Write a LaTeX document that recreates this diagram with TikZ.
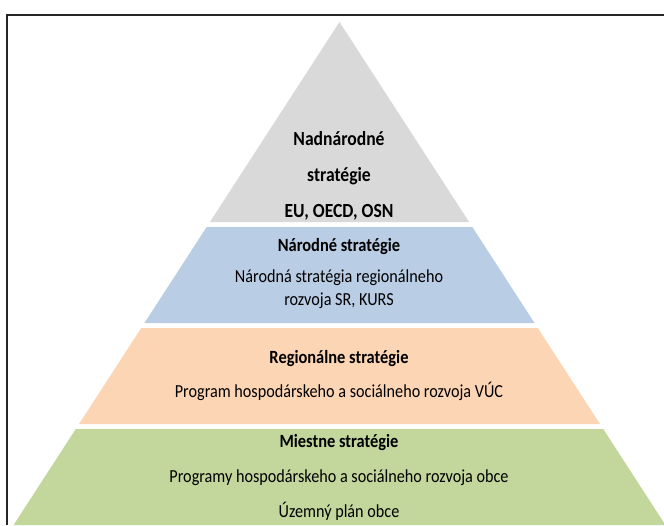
\documentclass[tikz,border=0pt]{standalone}
\usepackage{fontspec}
\setmainfont{Carlito}[FakeStretch=0.88]
\usetikzlibrary{positioning}
\definecolor{grayL}{HTML}{D9D9D9}
\definecolor{blueL}{HTML}{B9CDE5}
\definecolor{orangeL}{HTML}{FCD5B5}
\definecolor{greenL}{HTML}{C3D69B}

\begin{document}
\begin{tikzpicture}[x=0.75pt, y=-0.75pt,
    txt/.style={anchor=mid, inner sep=0pt, font=\fontsize{13.8}{16}\selectfont},
    head/.style={txt, font=\fontsize{14}{16}\selectfont\bfseries},
    toptxt/.style={txt, font=\fontsize{15}{18}\selectfont\bfseries},
    frame/.style={draw=black!85, line width=1.3pt}]
    \useasboundingbox (0,0) rectangle (664,525);
    \clip (0,0) rectangle (664,525);

    \coordinate (apex) at (339.5,22);

    % outer frame, cut off at the right and bottom
    \draw[frame] (664,15) -- (7,15) -- (7,525);

    % layers of the pyramid
    \foreach \ytop/\ybot/\col in {22/222/grayL, 227/323/blueL, 328/424/orangeL, 429/525/greenL}{
        \pgfmathsetmacro{\wtop}{0.648*(\ytop-22)}
        \pgfmathsetmacro{\wbot}{0.648*(\ybot-22)}
        \fill[\col] ([xshift=-\wtop*0.75pt]apex |- 0,\ytop) -- ([xshift=\wtop*0.75pt]apex |- 0,\ytop)
            -- ([xshift=\wbot*0.75pt]apex |- 0,\ybot) -- ([xshift=-\wbot*0.75pt]apex |- 0,\ybot) -- cycle;
    }

    \node[toptxt] (nadn) at (339,142) {Nadnárodné};
    \node[toptxt] (nadstr) at (339,178) {stratégie};
    \node[toptxt] (nadorg) at (339,214) {EU, OECD, OSN};

    \node[head] (narhead) at (339,248) {Národné stratégie};
    \node[txt] (nar1) at (339,279) {Národná stratégia regionálneho};
    \node[txt] (nar2) at (339,302) {rozvoja SR, KURS};

    \node[head] (reghead) at (339,360) {Regionálne stratégie};
    \node[txt] (reg1) at (339,394) {Program hospodárskeho a sociálneho rozvoja VÚC};

    \node[head] (miehead) at (339,444) {Miestne stratégie};
    \node[txt] (mie1) at (339,479) {Programy hospodárskeho a sociálneho rozvoja obce};
    \node[txt] (mie2) at (339,514) {Územný plán obce};
\end{tikzpicture}
\end{document}
